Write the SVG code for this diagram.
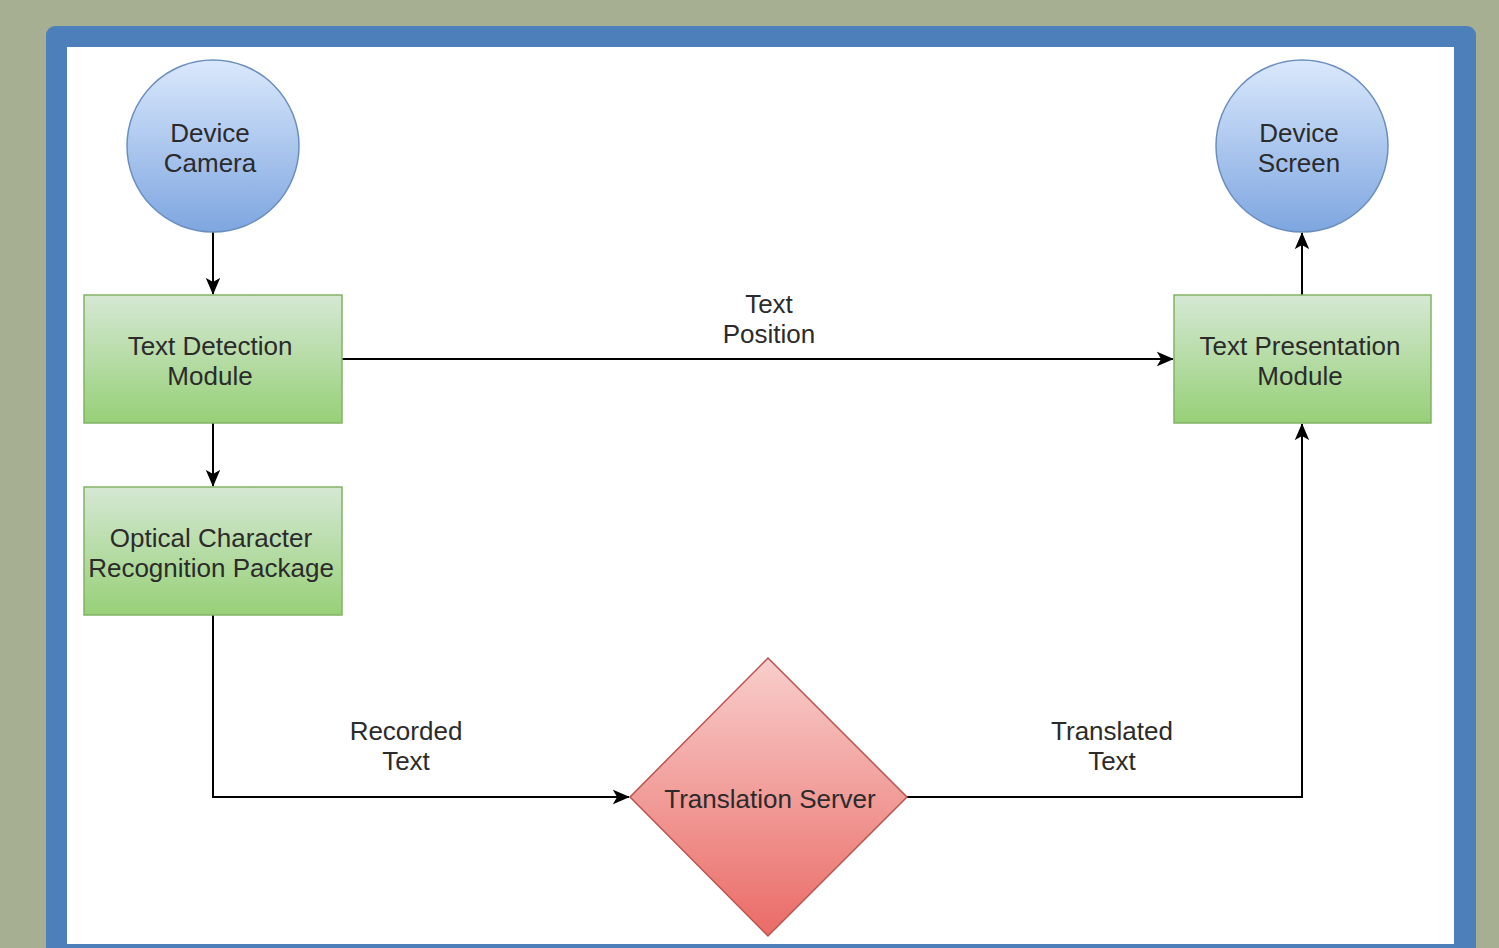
<svg xmlns="http://www.w3.org/2000/svg" width="1499" height="948" viewBox="0 0 1499 948">
<defs>
<linearGradient id="gBlue" x1="0" y1="0" x2="0" y2="1"><stop offset="0" stop-color="#dae8fc"/><stop offset="1" stop-color="#7ea6e0"/></linearGradient>
<linearGradient id="gGreen" x1="0" y1="0" x2="0" y2="1"><stop offset="0" stop-color="#d5e8d4"/><stop offset="1" stop-color="#97d077"/></linearGradient>
<linearGradient id="gRed" x1="0" y1="0" x2="0" y2="1"><stop offset="0" stop-color="#f8cecc"/><stop offset="1" stop-color="#ea6b66"/></linearGradient>
<marker id="arr" viewBox="0 0 20 20" refX="19" refY="10" markerWidth="17" markerHeight="17" markerUnits="userSpaceOnUse" orient="auto">
<path d="M0,1.5 L20,10 L0,18.5 L5,10 Z" fill="#000"/>
</marker>
</defs>
<style>
.lbl{font-family:"Liberation Sans",Arial,sans-serif;font-size:26px;fill:#2b2b2b;text-anchor:middle}
.edge{fill:none;stroke:#000;stroke-width:2;marker-end:url(#arr)}
.circ{fill:url(#gBlue);stroke:#6c8ebf;stroke-width:1.5}
.box{fill:url(#gGreen);stroke:#82b366;stroke-width:1.5}
.dia{fill:url(#gRed);stroke:#b85450;stroke-width:1.5}
</style>
<rect x="0" y="0" width="1499" height="948" fill="#a6af91"/>
<rect x="46" y="26" width="1430" height="940" rx="9" fill="#4d7fbb"/>
<rect x="67" y="47" width="1387" height="897" fill="#ffffff"/>
<g id="connectors">
<path class="edge" d="M213,232 L213,294"/>
<path class="edge" d="M213,423 L213,486"/>
<path class="edge" d="M342,359 L1173,359"/>
<path class="edge" d="M213,615 L213,797 L629,797"/>
<path class="edge" d="M907,797 L1302,797 L1302,424"/>
<path class="edge" d="M1302,295 L1302,233"/>
<text class="lbl" x="769" y="313">Text</text>
<text class="lbl" x="769" y="343">Position</text>
<text class="lbl" x="406" y="740">Recorded</text>
<text class="lbl" x="406" y="770">Text</text>
<text class="lbl" x="1112" y="740">Translated</text>
<text class="lbl" x="1112" y="770">Text</text>
</g>
<g id="device-camera">
<circle class="circ" cx="213" cy="146" r="86"/>
<text class="lbl" x="210" y="142">Device</text>
<text class="lbl" x="210" y="172">Camera</text>
</g>
<g id="device-screen">
<circle class="circ" cx="1302" cy="146" r="86"/>
<text class="lbl" x="1299" y="142">Device</text>
<text class="lbl" x="1299" y="172">Screen</text>
</g>
<g id="text-detection">
<rect class="box" x="84" y="295" width="258" height="128"/>
<text class="lbl" x="210" y="355">Text Detection</text>
<text class="lbl" x="210" y="385">Module</text>
</g>
<g id="ocr">
<rect class="box" x="84" y="487" width="258" height="128"/>
<text class="lbl" x="211" y="547">Optical Character</text>
<text class="lbl" x="211" y="577">Recognition Package</text>
</g>
<g id="text-presentation">
<rect class="box" x="1174" y="295" width="257" height="128"/>
<text class="lbl" x="1300" y="355">Text Presentation</text>
<text class="lbl" x="1300" y="385">Module</text>
</g>
<g id="translation-server">
<polygon class="dia" points="768,658 907,797 768,936 630,797"/>
<text class="lbl" x="770" y="808">Translation Server</text>
</g>
</svg>
